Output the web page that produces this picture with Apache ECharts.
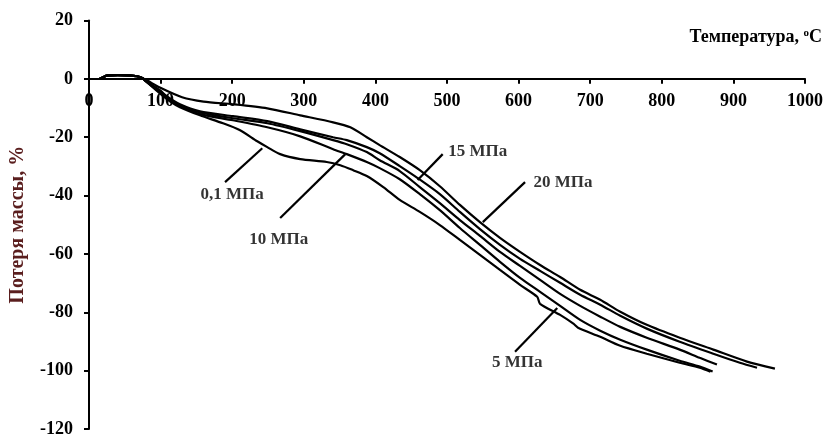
<!DOCTYPE html>
<html><head><meta charset="utf-8">
<script src="https://cdn.jsdelivr.net/npm/echarts@6/dist/echarts.min.js"></script>
<style>html,body{margin:0;padding:0;background:#fff}#c{width:832px;height:437px}</style>
</head><body><div id="c"></div>
<script>
// Temperature (°C) vs mass loss (%) for each pressure
const seriesNames = ['20 МПа', '15 МПа', '10 МПа', '5 МПа', '0,1 МПа'];
const start = [[15,0],[20,0.6],[25,1.1],[40,1.3],[53,1.2],[67,0.9],[75,0.2]];
const mpa20 = [[81,-0.5],[99,-3.0],[130,-6.3],[160,-7.8],[201,-8.7],[249,-10.1],[295,-12.5],[341,-14.9],[365,-16.6],[388,-20.0],[406,-22.7],[434,-26.8],[462,-31.3],[490,-36.8],[518,-43.2],[546,-49.1],[574,-54.5],[602,-59.3],[630,-63.8],[658,-67.9],[686,-72.3],[714,-75.7],[742,-79.8],[779,-84.3],[825,-88.7],[872,-92.8],[919,-96.9],[958,-99.3]];
const mpa15 = [[78,-0.5],[99,-3.9],[109,-6.0],[127,-8.7],[155,-11.1],[201,-12.8],[249,-14.5],[295,-17.3],[341,-20.0],[360,-21.0],[388,-23.4],[406,-25.5],[434,-29.9],[459,-34.0],[490,-39.5],[518,-45.6],[546,-51.5],[574,-56.9],[602,-61.7],[630,-65.8],[658,-69.9],[686,-74.0],[714,-77.4],[742,-81.2],[779,-85.6],[825,-90.1],[872,-94.2],[909,-97.3],[933,-99.0]];
const mpa10 = [[78,-0.5],[99,-4.3],[109,-6.3],[127,-9.1],[155,-11.5],[201,-13.5],[249,-15.2],[295,-17.9],[341,-21.0],[360,-22.4],[388,-25.1],[406,-27.9],[434,-31.6],[462,-37.1],[490,-42.6],[518,-48.4],[546,-53.8],[574,-59.3],[602,-64.1],[630,-68.9],[658,-73.7],[686,-77.8],[714,-81.5],[742,-85.0],[779,-88.7],[825,-92.8],[853,-95.6],[877,-97.9]];
const mpa5 = [[78,-0.5],[99,-4.6],[113,-7.4],[127,-9.4],[155,-12.1],[201,-14.2],[249,-16.6],[295,-19.7],[341,-24.1],[360,-25.8],[388,-28.5],[406,-30.6],[434,-34.4],[462,-39.5],[490,-45.0],[518,-51.1],[546,-56.9],[574,-62.7],[602,-68.2],[630,-73.0],[658,-77.8],[686,-82.6],[714,-86.3],[742,-89.4],[779,-92.8],[825,-96.6],[853,-98.6],[871,-100.3]];
const mpa01 = [[78,-0.5],[99,-5.0],[113,-7.7],[127,-9.7],[155,-12.5],[187,-15.2],[211,-17.6],[235,-21.4],[249,-23.4],[267,-25.8],[295,-27.5],[332,-28.5],[351,-29.6],[369,-31.3],[388,-33.3],[411,-37.1],[434,-41.5],[462,-45.6],[490,-50.1],[518,-55.2],[546,-60.3],[574,-65.5],[602,-70.6],[626,-74.7],[630,-77.1],[658,-80.9],[677,-84.0],[683,-85.3],[714,-88.4],[742,-91.5],[779,-94.2],[825,-97.3],[853,-99.0],[868,-100.4]];

// Annotations: label text, label centre, leader line ends (data coords)
const labelTexts = ['0,1 МПа', '5 МПа', '10 МПа', '15 МПа', '20 МПа'];
const labelPos = [[200,-39.5],[598,-97.3],[265,-55.2],[543,-25.1],[662,-35.6]];
const leaderLines = [
  [[190,-35.4],[242,-23.8]],
  [[595,-93.5],[654,-78.5]],
  [[267,-47.7],[358,-25.8]],
  [[494,-25.8],[459,-34.7]],
  [[609,-35.4],[550,-49.1]]
];

const X_MIN = 0, X_MAX = 1000, X_STEP = 100;
const Y_MIN = -120, Y_MAX = 20, Y_STEP = 20;

const font = 'Liberation Serif';
const curves = [mpa20, mpa15, mpa10, mpa5, mpa01];
const G = {left: 89, right: 27, top: 20.5, bottom: 8};
const H = 437 - G.top - G.bottom;
// x axis crosses the y axis at value 0
const zeroOffset = -(H * (0 - Y_MIN) / (Y_MAX - Y_MIN));

const chart = echarts.init(document.getElementById('c'), null, {renderer: 'canvas'});
const option = {
  animation: false,
  backgroundColor: '#fff',
  grid: Object.assign({outerBoundsMode: 'none', containLabel: false}, G),
  xAxis: {
    type: 'value', min: X_MIN, max: X_MAX, interval: X_STEP,
    position: 'bottom', offset: zeroOffset,
    axisLine: {onZero: false, lineStyle: {color: '#000', width: 2}},
    axisTick: {show: true, length: 5, lineStyle: {color: '#000', width: 2}},
    axisLabel: {margin: 13, color: '#000', fontFamily: font, fontWeight: 'bold', fontSize: 18,
                formatter: v => String(v)},
    splitLine: {show: false},
    name: 'Температура, {s|o}C', nameLocation: 'end', nameGap: 17,
    nameTextStyle: {
      color: '#000', fontFamily: font, fontWeight: 'bold', fontSize: 18,
      align: 'right', verticalAlign: 'bottom', padding: [0, 0, 33, 0],
      rich: {s: {fontSize: 11, fontFamily: font, fontWeight: 'bold', color: '#000', padding: [0, 0, 7, 0]}}
    }
  },
  yAxis: {
    type: 'value', min: Y_MIN, max: Y_MAX, interval: Y_STEP,
    axisLine: {show: true, onZero: false, lineStyle: {color: '#000', width: 2}},
    axisTick: {show: true, length: 5, lineStyle: {color: '#000', width: 2}},
    axisLabel: {margin: 16, color: '#000', fontFamily: font, fontWeight: 'bold', fontSize: 18,
                formatter: v => String(v)},
    splitLine: {show: false},
    name: 'Потеря массы, %', nameLocation: 'middle', nameGap: 61, nameRotate: 90,
    nameTextStyle: {color: '#5a1e1e', fontFamily: font, fontWeight: 'bold', fontSize: 20}
  },
  series: curves.map((c, i) => ({
    name: seriesNames[i], type: 'line', data: start.concat(c),
    showSymbol: false, smooth: 0.25, z: 3,
    lineStyle: {color: '#000', width: 2.2}
  })).concat([
    {
      type: 'lines', coordinateSystem: 'cartesian2d', z: 4,
      lineStyle: {color: '#000', width: 2.2, opacity: 1},
      data: leaderLines.map(l => ({coords: l}))
    },
    {
      type: 'scatter', symbolSize: 0, z: 5,
      data: labelPos.map((p, i) => ({value: p, name: labelTexts[i]})),
      label: {show: true, position: 'inside', formatter: '{b}', color: '#000',
              fontFamily: font, fontWeight: 'bold', fontSize: 17}
    }
  ])
};
chart.setOption(option);
</script></body></html>
